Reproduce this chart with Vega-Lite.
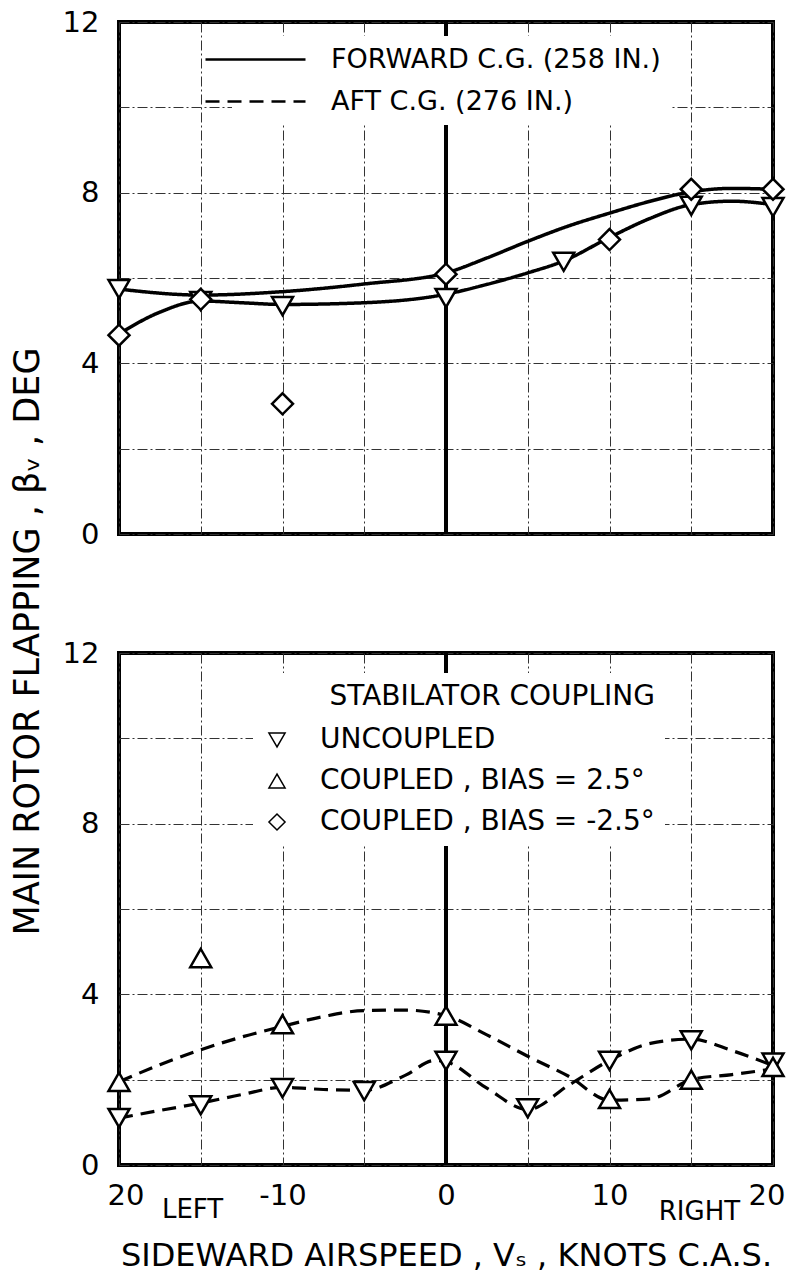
{
  "$schema": "https://vega.github.io/schema/vega-lite/v6.json",
  "padding": {"left": 8, "top": 6, "right": 20, "bottom": 5},
  "autosize": {"type": "pad"},
  "background": "white",
  "config": {
    "font": "DejaVu Sans",
    "view": {"stroke": "black", "strokeWidth": 4},
    "axis": {"domain": false, "ticks": false, "grid": true, "gridColor": "#333333", "gridWidth": 1, "gridDash": [10, 3, 2, 3], "labelColor": "black", "labelFontSize": 29, "labelFont": "DejaVu Sans", "titleColor": "black", "titleFontWeight": "normal", "titleFont": "DejaVu Sans"},
    "legend": {"labelFont": "DejaVu Sans", "titleFont": "DejaVu Sans", "labelColor": "black", "titleColor": "black", "titleFontWeight": "normal", "labelLimit": 1000, "titleLimit": 1000}
  },
  "datasets": {
    "zero": [{"v": 0}],
    "topPoints": [
      {"v": -20, "beta": 5.74, "coupling": "UNCOUPLED"},
      {"v": -15, "beta": 5.46, "coupling": "UNCOUPLED"},
      {"v": -10, "beta": 5.34, "coupling": "UNCOUPLED"},
      {"v": 0, "beta": 5.53, "coupling": "UNCOUPLED"},
      {"v": 7.2, "beta": 6.38, "coupling": "UNCOUPLED"},
      {"v": 15, "beta": 7.69, "coupling": "UNCOUPLED"},
      {"v": 20, "beta": 7.66, "coupling": "UNCOUPLED"},
      {"v": -20, "beta": 4.66, "coupling": "COUPLED , BIAS = -2.5°"},
      {"v": -15, "beta": 5.5, "coupling": "COUPLED , BIAS = -2.5°"},
      {"v": -10, "beta": 3.05, "coupling": "COUPLED , BIAS = -2.5°"},
      {"v": 0, "beta": 6.09, "coupling": "COUPLED , BIAS = -2.5°"},
      {"v": 10, "beta": 6.9, "coupling": "COUPLED , BIAS = -2.5°"},
      {"v": 15, "beta": 8.08, "coupling": "COUPLED , BIAS = -2.5°"},
      {"v": 20, "beta": 8.08, "coupling": "COUPLED , BIAS = -2.5°"}
    ],
    "topCurves": [
      {"curve": "A", "cg": "FORWARD C.G. (258 IN.)", "v": -20, "beta": 5.74},
      {"curve": "A", "cg": "FORWARD C.G. (258 IN.)", "v": -15, "beta": 5.6},
      {"curve": "A", "cg": "FORWARD C.G. (258 IN.)", "v": -10, "beta": 5.68},
      {"curve": "A", "cg": "FORWARD C.G. (258 IN.)", "v": -5, "beta": 5.86},
      {"curve": "A", "cg": "FORWARD C.G. (258 IN.)", "v": 0, "beta": 6.12},
      {"curve": "A", "cg": "FORWARD C.G. (258 IN.)", "v": 2.5, "beta": 6.47},
      {"curve": "A", "cg": "FORWARD C.G. (258 IN.)", "v": 5, "beta": 6.86},
      {"curve": "A", "cg": "FORWARD C.G. (258 IN.)", "v": 7.5, "beta": 7.22},
      {"curve": "A", "cg": "FORWARD C.G. (258 IN.)", "v": 10, "beta": 7.52},
      {"curve": "A", "cg": "FORWARD C.G. (258 IN.)", "v": 12.5, "beta": 7.8},
      {"curve": "A", "cg": "FORWARD C.G. (258 IN.)", "v": 15, "beta": 8.02},
      {"curve": "A", "cg": "FORWARD C.G. (258 IN.)", "v": 17.5, "beta": 8.1},
      {"curve": "A", "cg": "FORWARD C.G. (258 IN.)", "v": 20, "beta": 8.08},
      {"curve": "B", "cg": "FORWARD C.G. (258 IN.)", "v": -20, "beta": 4.69},
      {"curve": "B", "cg": "FORWARD C.G. (258 IN.)", "v": -17.5, "beta": 5.2},
      {"curve": "B", "cg": "FORWARD C.G. (258 IN.)", "v": -15, "beta": 5.46},
      {"curve": "B", "cg": "FORWARD C.G. (258 IN.)", "v": -12.5, "beta": 5.42},
      {"curve": "B", "cg": "FORWARD C.G. (258 IN.)", "v": -10, "beta": 5.38},
      {"curve": "B", "cg": "FORWARD C.G. (258 IN.)", "v": -5, "beta": 5.42},
      {"curve": "B", "cg": "FORWARD C.G. (258 IN.)", "v": 0, "beta": 5.62},
      {"curve": "B", "cg": "FORWARD C.G. (258 IN.)", "v": 2.5, "beta": 5.85},
      {"curve": "B", "cg": "FORWARD C.G. (258 IN.)", "v": 5, "beta": 6.12},
      {"curve": "B", "cg": "FORWARD C.G. (258 IN.)", "v": 7.2, "beta": 6.4},
      {"curve": "B", "cg": "FORWARD C.G. (258 IN.)", "v": 10, "beta": 6.95},
      {"curve": "B", "cg": "FORWARD C.G. (258 IN.)", "v": 12.5, "beta": 7.4},
      {"curve": "B", "cg": "FORWARD C.G. (258 IN.)", "v": 15, "beta": 7.72},
      {"curve": "B", "cg": "FORWARD C.G. (258 IN.)", "v": 17.5, "beta": 7.8},
      {"curve": "B", "cg": "FORWARD C.G. (258 IN.)", "v": 20, "beta": 7.72}
    ],
    "bottomPoints": [
      {"v": -20, "beta": 1.1, "coupling": "UNCOUPLED"},
      {"v": -15, "beta": 1.4, "coupling": "UNCOUPLED"},
      {"v": -10, "beta": 1.8, "coupling": "UNCOUPLED"},
      {"v": -5, "beta": 1.73, "coupling": "UNCOUPLED"},
      {"v": 0, "beta": 2.44, "coupling": "UNCOUPLED"},
      {"v": 5, "beta": 1.33, "coupling": "UNCOUPLED"},
      {"v": 10, "beta": 2.44, "coupling": "UNCOUPLED"},
      {"v": 15, "beta": 2.92, "coupling": "UNCOUPLED"},
      {"v": 20, "beta": 2.4, "coupling": "UNCOUPLED"},
      {"v": -20, "beta": 1.95, "coupling": "COUPLED , BIAS = 2.5°"},
      {"v": -15, "beta": 4.85, "coupling": "COUPLED , BIAS = 2.5°"},
      {"v": -10, "beta": 3.3, "coupling": "COUPLED , BIAS = 2.5°"},
      {"v": 0, "beta": 3.5, "coupling": "COUPLED , BIAS = 2.5°"},
      {"v": 10, "beta": 1.55, "coupling": "COUPLED , BIAS = 2.5°"},
      {"v": 15, "beta": 2.0, "coupling": "COUPLED , BIAS = 2.5°"},
      {"v": 20, "beta": 2.3, "coupling": "COUPLED , BIAS = 2.5°"}
    ],
    "bottomCurves": [
      {"curve": "U", "cg": "AFT C.G. (276 IN.)", "v": -20, "beta": 1.1},
      {"curve": "U", "cg": "AFT C.G. (276 IN.)", "v": -17.5, "beta": 1.28},
      {"curve": "U", "cg": "AFT C.G. (276 IN.)", "v": -15, "beta": 1.45},
      {"curve": "U", "cg": "AFT C.G. (276 IN.)", "v": -12.5, "beta": 1.65},
      {"curve": "U", "cg": "AFT C.G. (276 IN.)", "v": -10, "beta": 1.82},
      {"curve": "U", "cg": "AFT C.G. (276 IN.)", "v": -7.5, "beta": 1.77},
      {"curve": "U", "cg": "AFT C.G. (276 IN.)", "v": -5, "beta": 1.75},
      {"curve": "U", "cg": "AFT C.G. (276 IN.)", "v": -2.5, "beta": 2.1},
      {"curve": "U", "cg": "AFT C.G. (276 IN.)", "v": -0.7, "beta": 2.45},
      {"curve": "U", "cg": "AFT C.G. (276 IN.)", "v": 0, "beta": 2.42},
      {"curve": "U", "cg": "AFT C.G. (276 IN.)", "v": 2.5, "beta": 1.8},
      {"curve": "U", "cg": "AFT C.G. (276 IN.)", "v": 5, "beta": 1.3},
      {"curve": "U", "cg": "AFT C.G. (276 IN.)", "v": 7.5, "beta": 1.87},
      {"curve": "U", "cg": "AFT C.G. (276 IN.)", "v": 10, "beta": 2.45},
      {"curve": "U", "cg": "AFT C.G. (276 IN.)", "v": 12.5, "beta": 2.85},
      {"curve": "U", "cg": "AFT C.G. (276 IN.)", "v": 15, "beta": 2.95},
      {"curve": "U", "cg": "AFT C.G. (276 IN.)", "v": 17.5, "beta": 2.68},
      {"curve": "U", "cg": "AFT C.G. (276 IN.)", "v": 20, "beta": 2.33},
      {"curve": "C", "cg": "AFT C.G. (276 IN.)", "v": -20, "beta": 1.95},
      {"curve": "C", "cg": "AFT C.G. (276 IN.)", "v": -17.5, "beta": 2.35},
      {"curve": "C", "cg": "AFT C.G. (276 IN.)", "v": -15, "beta": 2.7},
      {"curve": "C", "cg": "AFT C.G. (276 IN.)", "v": -12.5, "beta": 3.0},
      {"curve": "C", "cg": "AFT C.G. (276 IN.)", "v": -10, "beta": 3.25},
      {"curve": "C", "cg": "AFT C.G. (276 IN.)", "v": -7.5, "beta": 3.48},
      {"curve": "C", "cg": "AFT C.G. (276 IN.)", "v": -5, "beta": 3.62},
      {"curve": "C", "cg": "AFT C.G. (276 IN.)", "v": -2.5, "beta": 3.63},
      {"curve": "C", "cg": "AFT C.G. (276 IN.)", "v": 0, "beta": 3.5},
      {"curve": "C", "cg": "AFT C.G. (276 IN.)", "v": 2.5, "beta": 3.05},
      {"curve": "C", "cg": "AFT C.G. (276 IN.)", "v": 5, "beta": 2.55},
      {"curve": "C", "cg": "AFT C.G. (276 IN.)", "v": 7.5, "beta": 2.08},
      {"curve": "C", "cg": "AFT C.G. (276 IN.)", "v": 10, "beta": 1.52},
      {"curve": "C", "cg": "AFT C.G. (276 IN.)", "v": 12.5, "beta": 1.55},
      {"curve": "C", "cg": "AFT C.G. (276 IN.)", "v": 15, "beta": 2.0},
      {"curve": "C", "cg": "AFT C.G. (276 IN.)", "v": 17.5, "beta": 2.12},
      {"curve": "C", "cg": "AFT C.G. (276 IN.)", "v": 20, "beta": 2.25}
    ],
    "sideNotes": [
      {"v": -15.5, "beta": -1.05, "note": "LEFT"},
      {"v": 15.5, "beta": -1.1, "note": "RIGHT"}
    ]
  },
  "spacing": 119,
  "bounds": "flush",
  "resolve": {"scale": {"shape": "independent", "strokeDash": "independent"}},
  "vconcat": [
    {
      "width": 654,
      "height": 512,
      "encoding": {
        "x": {"field": "v", "type": "quantitative", "scale": {"domain": [-20, 20], "nice": false, "zero": false},
              "axis": {"values": [-20, -15, -10, -5, 0, 5, 10, 15, 20], "labels": false, "title": null}}
      },
      "layer": [
        {
          "data": {"name": "zero"},
          "mark": {"type": "rule", "stroke": "black", "strokeWidth": 4},
          "encoding": {"x": {"field": "v", "type": "quantitative"}}
        },
        {
          "data": {"name": "topCurves"},
          "mark": {"type": "line", "interpolate": "monotone", "color": "black", "strokeWidth": 3.5},
          "encoding": {
            "y": {"field": "beta", "type": "quantitative", "scale": {"domain": [0, 12], "nice": false},
                  "axis": {"values": [0, 2, 4, 6, 8, 10, 12], "labelExpr": "datum.value % 4 === 0 ? datum.label : ''", "labelPadding": 20, "labelFlush": false,
                           "title": "MAIN ROTOR FLAPPING , βᵥ , DEG", "titleFontSize": 35, "titleAngle": -90, "titleX": -92, "titleY": 619, "titleAlign": "center", "titleBaseline": "middle"}},
            "detail": {"field": "curve"},
            "strokeDash": {"field": "cg", "type": "nominal",
                           "scale": {"domain": ["FORWARD C.G. (258 IN.)", "AFT C.G. (276 IN.)"], "range": [[1, 0], [14, 8]]},
                           "legend": {"orient": "none", "legendX": 113, "legendY": 14, "title": null,
                                      "symbolType": "M-5,0H5", "symbolSize": 400, "symbolStrokeWidth": 2.5, "symbolStrokeColor": "black",
                                      "labelFontSize": 27, "labelOffset": 62, "rowPadding": 14, "padding": 10, "fillColor": "white"}}
          }
        },
        {
          "data": {"name": "topPoints"},
          "mark": {"type": "point", "size": 440, "filled": true, "fill": "white", "stroke": "black", "strokeWidth": 2.5, "opacity": 1},
          "encoding": {
            "y": {"field": "beta", "type": "quantitative"},
            "shape": {"field": "coupling", "type": "nominal",
                      "scale": {"domain": ["UNCOUPLED", "COUPLED , BIAS = 2.5°", "COUPLED , BIAS = -2.5°"], "range": ["triangle-down", "triangle-up", "diamond"]},
                      "legend": null}
          }
        }
      ]
    },
    {
      "width": 654,
      "height": 512,
      "encoding": {
        "x": {"field": "v", "type": "quantitative", "scale": {"domain": [-20, 20], "nice": false, "zero": false},
              "axis": {"values": [-20, -15, -10, -5, 0, 5, 10, 15, 20],
                       "labelExpr": "datum.value === -20 ? '20' : datum.value === -10 ? '-10' : datum.value === 0 ? '0' : datum.value === 10 ? '10' : datum.value === 20 ? '20' : ''",
                       "labelPadding": 16, "labelFlush": true, "labelFlushOffset": 12,
                       "title": "SIDEWARD AIRSPEED , Vₛ , KNOTS C.A.S.", "titleFontSize": 32, "titlePadding": 30}}
      },
      "layer": [
        {
          "data": {"name": "zero"},
          "mark": {"type": "rule", "stroke": "black", "strokeWidth": 4},
          "encoding": {"x": {"field": "v", "type": "quantitative"}}
        },
        {
          "data": {"name": "bottomCurves"},
          "mark": {"type": "line", "interpolate": "monotone", "color": "black", "strokeWidth": 3.2},
          "encoding": {
            "y": {"field": "beta", "type": "quantitative", "scale": {"domain": [0, 12], "nice": false},
                  "axis": {"values": [0, 2, 4, 6, 8, 10, 12], "labelExpr": "datum.value % 4 === 0 ? datum.label : ''", "labelPadding": 20, "labelFlush": false, "title": null}},
            "detail": {"field": "curve"},
            "strokeDash": {"field": "cg", "type": "nominal",
                           "scale": {"domain": ["FORWARD C.G. (258 IN.)", "AFT C.G. (276 IN.)"], "range": [[1, 0], [14, 8]]},
                           "legend": null}
          }
        },
        {
          "data": {"name": "sideNotes"},
          "mark": {"type": "text", "fontSize": 26, "color": "black", "align": "center", "baseline": "middle"},
          "encoding": {
            "y": {"field": "beta", "type": "quantitative"},
            "text": {"field": "note"}
          }
        },
        {
          "data": {"name": "bottomPoints"},
          "mark": {"type": "point", "size": 440, "filled": true, "fill": "white", "stroke": "black", "strokeWidth": 2.5, "opacity": 1},
          "encoding": {
            "y": {"field": "beta", "type": "quantitative"},
            "shape": {"field": "coupling", "type": "nominal",
                      "scale": {"domain": ["UNCOUPLED", "COUPLED , BIAS = 2.5°", "COUPLED , BIAS = -2.5°"], "range": ["triangle-down", "triangle-up", "diamond"]},
                      "legend": {"orient": "none", "legendX": 134, "legendY": 20, "title": "STABILATOR COUPLING", "titleFontSize": 28, "titleAnchor": "end", "titlePadding": 15,
                                 "labelFontSize": 28, "labelOffset": 29, "rowPadding": 13, "symbolSize": 260, "padding": 10, "fillColor": "white",
                                 "encode": {"symbols": {"stroke": {"value": "black"}, "strokeWidth": {"value": 2.2}, "fill": {"value": "white"}, "size": {"value": 260}}}}}
          }
        }
      ]
    }
  ]
}
